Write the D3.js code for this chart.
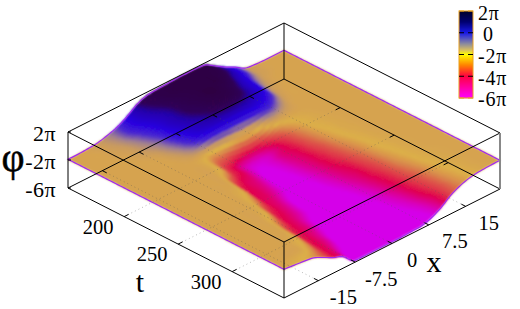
<!DOCTYPE html>
<html>
<head>
<meta charset="utf-8">
<script src="https://cdn.jsdelivr.net/npm/d3@7"></script>
<style>
  body { margin: 0; background: #fff; }
  text { font-family: "Liberation Serif", serif; fill: #000; }
</style>
</head>
<body>
<script>
// axes of the surface
const tValues = d3.range(148, 349, 10); // 21 rows
const xValues = d3.range(-22, 23, 2);   // 23 columns
const tTicks = [200, 250, 300];
const xTicks = [-15, -7.5, 0, 7.5, 15];
const xTickLabels = ["-15", "-7.5", "0", "7.5", "15"];
const zTicks = [2, -2, -6];               // in units of pi
const zTickLabels = ["2π", "-2π", "-6π"];
const cbTicks = [2, 0, -2, -4, -6];
const cbTickLabels = ["2π", "0", "-2π", "-4π", "-6π"];

// background phase, in units of pi
const phiBase = -1.9;
// phase relative to background in units of pi/7
// one row per t, one column per x
const phaseShift = [
  [0,0,.5,1.5,4,7.5,13,20,24,25,25.5,26,26,26,25,19,13,8,2,.5,0,0,0],
  [0,0,0,1,3,8,13,18,22,25,26,26,26,26,25,20,14,8,2,.5,0,0,0],
  [0,0,0,.5,1.5,5,10,15,19,23,25,26,26,26,23,17,12,5,1,0,0,0,0],
  [0,0,0,0,1,3,7,14,18,22,24,26,26,24,20,15,11,3,.5,0,0,0,0],
  [0,0,0,0,0,1,5,11,16,19,22,24,24,22,18,14,9,2,0,0,0,0,0],
  [0,0,0,0,0,0,2,7,12,14,15,15,15,14,12,9,4,.5,0,0,0,0,0],
  [0,0,0,0,0,0,0,-.5,-3,-3,-4,-5,-5,-3,1,1,.3,0,0,0,0,0,0],
  [0,0,0,0,0,0,0,-2,-9,-13,-17,-19,-19,-16,-10,-4,-1.5,-.5,0,0,0,0,0],
  [0,0,0,0,0,0,0,-3,-11,-14.5,-19,-23,-21,-16,-13,-6.5,-2,-.7,-.2,0,0,0,0],
  [0,0,0,0,0,0,-.7,-9,-14,-16,-20,-25,-22,-17,-14,-8,-3,-1,-.3,0,0,0,0],
  [0,0,0,0,0,0,-1.5,-12,-14.5,-17,-21,-26,-23,-18,-14.5,-10,-4,-1.2,-.4,0,0,0,0],
  [0,0,0,0,0,-.4,-3,-13,-15,-18,-22,-26,-24,-19,-15,-11,-5.5,-1.8,-.5,0,0,0,0],
  [0,0,0,0,0,-.8,-6,-13.5,-16,-20,-25,-26,-25,-20,-16,-12.5,-7,-2.5,-.7,-.2,0,0,0],
  [0,0,0,0,0,-1.5,-10,-14,-17,-21,-26,-26.5,-25.5,-21.5,-17,-14,-8.5,-3,-1,-.3,0,0,0],
  [0,0,0,0,0,-3,-12,-15,-18,-22,-26,-26.5,-26,-23,-18.5,-14.5,-10,-4,-1.3,-.4,0,0,0],
  [0,0,0,0,-.6,-7,-13,-16,-20,-25,-26.5,-26.5,-26.5,-24,-20,-15.5,-11,-5,-1.7,-.5,0,0,0],
  [0,0,0,0,-1,-10,-14,-16.5,-21,-26,-27,-27,-26.5,-25,-21,-16.5,-12,-6.5,-2.2,-.7,-.2,0,0],
  [0,0,0,0,-1.5,-11,-14.5,-18,-23,-27,-27,-27,-27,-25.5,-22,-18,-13,-8,-3,-1,-.3,0,0],
  [0,0,0,-.3,-3,-12,-15,-19,-25,-27,-27,-27,-27,-26,-23.5,-19.5,-14,-9,-3.7,-1.3,-.4,0,0],
  [0,0,0,-.8,-5.5,-12.5,-16,-22,-26.5,-27,-27,-27,-27,-26,-25,-21.5,-16,-10,-4.5,-1.7,-.5,0,0],
  [0,-1,-2,-3.5,-8,-13,-17,-26,-27,-27,-27,-27,-27,-26.5,-26,-23,-17.5,-10,-5,-2,-.7,-.2,0]
];

// colours of the surface and of the colour box, phase in units of pi
const surfaceStops = [-6, -5.1, -4.7, -4.3, -3.9, -3.5, -3, -2.6, -2.15, -1.9, -1.65, -1.3, -.8, -.2, .7, 1.1, 2];
const surfaceColors = ["#d500e8", "#d500e8", "#d800c0", "#dc0088", "#e00050", "#e03048", "#dc5c48", "#d8884c", "#dcb048", "#d6a350", "#c89a60", "#a08090", "#4a28d0", "#2800e0", "#2400a8", "#300058", "#300040"];
const boxStops = [-6, -5, -4, -3, -2, -1.6, -1, 0, 1, 2];
const boxColors = ["#ff00ff", "#ff00a0", "#ff0040", "#ff8000", "#ffff00", "#d8c060", "#8888a0", "#1818e8", "#000070", "#000028"];

const width = 520, height = 309;
const svg = d3.select("body").append("svg")
  .attr("width", width)
  .attr("height", height);

// soft edge for the surface quads
svg.append("defs").append("filter")
  .attr("id", "soft")
  .append("feGaussianBlur")
    .attr("stdDeviation", 0.8);

// scales
const uScale = d3.scaleLinear().domain([tValues[0], tValues[tValues.length - 1]]).range([0, 1]);
const vScale = d3.scaleLinear().domain([xValues[0], xValues[xValues.length - 1]]).range([0, 1]);
const zScale = d3.scaleLinear().domain([-6, 2]).range([188, 132]);
const surfaceColor = d3.scaleLinear().domain(surfaceStops).range(surfaceColors).clamp(true);
const boxColor = d3.scaleLinear().domain(boxStops).range(boxColors).clamp(true);
const cbScale = d3.scaleLinear().domain([2, -6]).range([11, 98]);

// isometric-like view, corner at t min / x min is on the left
function project(t, x, phi) {
  let u = uScale(t), v = vScale(x);
  return [68 + 216 * (u + v), zScale(phi) + 110 * u - 109 * v];
}

function cubic(a, b, c, d, f) {
  return b + 0.5 * f * (c - a + f * (2 * a - 5 * b + 4 * c - d + f * (3 * (b - c) + d - a)));
}

// phase at fractional grid position, smoothed between the read values
function phiAt(ri, ci) {
  let r0 = Math.min(Math.floor(ri), tValues.length - 2), c0 = Math.min(Math.floor(ci), xValues.length - 2);
  let rows = [r0 - 1, r0, r0 + 1, r0 + 2].map((r) => Math.max(0, Math.min(tValues.length - 1, r)));
  let cols = [c0 - 1, c0, c0 + 1, c0 + 2].map((c) => Math.max(0, Math.min(xValues.length - 1, c)));
  let vals = rows.map((r) => cubic(phaseShift[r][cols[0]], phaseShift[r][cols[1]], phaseShift[r][cols[2]], phaseShift[r][cols[3]], ci - c0));
  return phiBase + cubic(vals[0], vals[1], vals[2], vals[3], ri - r0) / 7;
}

function gridPoint(ri, ci) {
  let t = tValues[0] + (tValues[1] - tValues[0]) * ri;
  let x = xValues[0] + (xValues[1] - xValues[0]) * ci;
  return project(t, x, phiAt(ri, ci));
}

// surface quads, painted from the back to the front
const sub = 5;
const quads = [];
for (let i = 0; i < (tValues.length - 1) * sub; i++) {
  for (let j = (xValues.length - 1) * sub - 1; j >= 0; j--) {
    quads.push({ i: i / sub, j: j / sub });
  }
}
const step = 1 / sub;
const quadLine = d3.line();

svg.append("g")
  .attr("shape-rendering", "crispEdges")
  .attr("filter", "url(#soft)")
  .selectAll("path")
  .data(quads)
  .enter()
  .append("path")
    .attr("d", (d) => quadLine([
      gridPoint(d.i, d.j),
      gridPoint(d.i + step, d.j),
      gridPoint(d.i + step, d.j + step),
      gridPoint(d.i, d.j + step)
    ]) + "Z")
    .attr("fill", (d) => surfaceColor(phiAt(d.i + step / 2, d.j + step / 2)))
    .attr("stroke", (d) => surfaceColor(phiAt(d.i + step / 2, d.j + step / 2)))
    .attr("stroke-width", 0.8);

// purple rim of the surface
const nr = tValues.length - 1, nc = xValues.length - 1;
const rim = [];
d3.range(0, nc * sub + 1).forEach((k) => rim.push(gridPoint(0, k / sub)));
d3.range(0, nr * sub + 1).forEach((k) => rim.push(gridPoint(k / sub, nc)));
d3.range(nc * sub, -1, -1).forEach((k) => rim.push(gridPoint(nr, k / sub)));
d3.range(nr * sub, -1, -1).forEach((k) => rim.push(gridPoint(k / sub, 0)));
svg.append("path")
  .attr("d", quadLine(rim) + "Z")
  .attr("fill", "none")
  .attr("stroke", "#a028f0")
  .attr("stroke-width", 1.2);

const tMin = tValues[0], tMax = tValues[nr];
const xMin = xValues[0], xMax = xValues[nc];

function seg(g, a, b, color, w, dash) {
  g.append("line")
    .attr("x1", a[0]).attr("y1", a[1])
    .attr("x2", b[0]).attr("y2", b[1])
    .attr("stroke", color)
    .attr("stroke-width", w)
    .attr("stroke-dasharray", dash || null);
}

// dotted grid on the base of the box
const grid = svg.append("g").attr("opacity", 0.4);
tTicks.forEach((t) => seg(grid, project(t, xMin, -6), project(t, xMax, -6), "#555", 1, "1,3"));
xTicks.forEach((x) => seg(grid, project(tMin, x, -6), project(tMax, x, -6), "#555", 1, "1,3"));

// box
const box = svg.append("g");
seg(box, project(tMin, xMin, -6), project(tMax, xMin, -6), "#000", 1);
seg(box, project(tMax, xMin, -6), project(tMax, xMax, -6), "#000", 1);
seg(box, project(tMax, xMax, -6), project(tMin, xMax, -6), "#000", 1);
seg(box, project(tMin, xMax, -6), project(tMin, xMin, -6), "#000", 1);
seg(box, project(tMin, xMin, 2), project(tMax, xMin, 2), "#000", 1);
seg(box, project(tMax, xMin, 2), project(tMax, xMax, 2), "#000", 1);
seg(box, project(tMax, xMax, 2), project(tMin, xMax, 2), "#000", 1);
seg(box, project(tMin, xMax, 2), project(tMin, xMin, 2), "#000", 1);
seg(box, project(tMin, xMin, -6), project(tMin, xMin, 2), "#000", 1);
seg(box, project(tMax, xMin, -6), project(tMax, xMin, 2), "#000", 1);
seg(box, project(tMin, xMax, -6), project(tMin, xMax, 2), "#000", 1);
seg(box, project(tMax, xMax, -6), project(tMax, xMax, 2), "#888", 2);

// ticks on the axis and its mirror
const tickAlongX = 0.9, tickAlongT = 4;
tTicks.forEach((t) => {
  seg(box, project(t, xMin, -6), project(t, xMin + tickAlongX, -6), "#000", 1);
  seg(box, project(t, xMax, -6), project(t, xMax - tickAlongX, -6), "#000", 1);
});
xTicks.forEach((x) => {
  seg(box, project(tMax, x, -6), project(tMax - tickAlongT, x, -6), "#000", 1);
  seg(box, project(tMin, x, -6), project(tMin + tickAlongT, x, -6), "#000", 1);
});
zTicks.forEach((z) => {
  let p = project(tMin, xMin, z);
  seg(box, p, [p[0] + 3, p[1]], "#000", 1);
});

// tick labels
const labels = svg.append("g");
labels.selectAll(".tlabel")
  .data(tTicks)
  .enter()
  .append("text")
    .attr("class", "tlabel")
    .attr("x", (d) => project(d, xMin, -6)[0] - 26)
    .attr("y", (d) => project(d, xMin, -6)[1] + 17)
    .attr("text-anchor", "middle")
    .attr("font-size", 20.5)
    .text((d) => d);

labels.selectAll(".xlabel")
  .data(xTicks)
  .enter()
  .append("text")
    .attr("class", "xlabel")
    .attr("x", (d, i) => project(tMax, d, -6)[0] + [25, 26, 20, 26, 23][i])
    .attr("y", (d) => project(tMax, d, -6)[1] + 23.5)
    .attr("text-anchor", "middle")
    .attr("font-size", 20.5)
    .text((d, i) => xTickLabels[i]);

labels.selectAll(".zlabel")
  .data(zTicks)
  .enter()
  .append("text")
    .attr("class", "zlabel")
    .attr("x", 56)
    .attr("y", (d) => zScale(d) + 9)
    .attr("text-anchor", "end")
    .attr("font-size", 22)
    .attr("letter-spacing", 0.4)
    .text((d, i) => zTickLabels[i]);

// axis titles
labels.append("text").attr("x", 13).attr("y", 171).attr("text-anchor", "middle").attr("font-size", 40)
  .attr("stroke", "#000").attr("stroke-width", 0.5).text("φ");
labels.append("text").attr("x", 140).attr("y", 292).attr("text-anchor", "middle").attr("font-size", 30).text("t");
labels.append("text").attr("x", 434).attr("y", 272).attr("text-anchor", "middle").attr("font-size", 30).text("x");

// colour box
const cb = svg.append("g");
cb.selectAll("rect")
  .data(d3.range(11, 98))
  .enter()
  .append("rect")
    .attr("x", 459)
    .attr("y", (d) => d)
    .attr("width", 14)
    .attr("height", 1.2)
    .attr("fill", (d) => boxColor(cbScale.invert(d + 0.5)));
cb.append("rect")
  .attr("x", 459).attr("y", 11)
  .attr("width", 14).attr("height", 87)
  .attr("fill", "none")
  .attr("stroke", "#e8a020")
  .attr("stroke-width", 1);

cbTicks.forEach((z) => {
  let y = cbScale(z);
  let c = (z === 2 || z === -6) ? "#e8a020" : "#000";
  seg(cb, [459, y], [464, y], c, 1);
  seg(cb, [468, y], [473, y], c, 1);
});

cb.selectAll("text")
  .data(cbTicks)
  .enter()
  .append("text")
    .attr("x", (d) => d === 0 ? 483 : 478)
    .attr("y", (d, i) => [20, 41, 63, 85, 106][i])
    .attr("font-size", 20)
    .attr("letter-spacing", 0.8)
    .text((d, i) => cbTickLabels[i]);
</script>
</body>
</html>
